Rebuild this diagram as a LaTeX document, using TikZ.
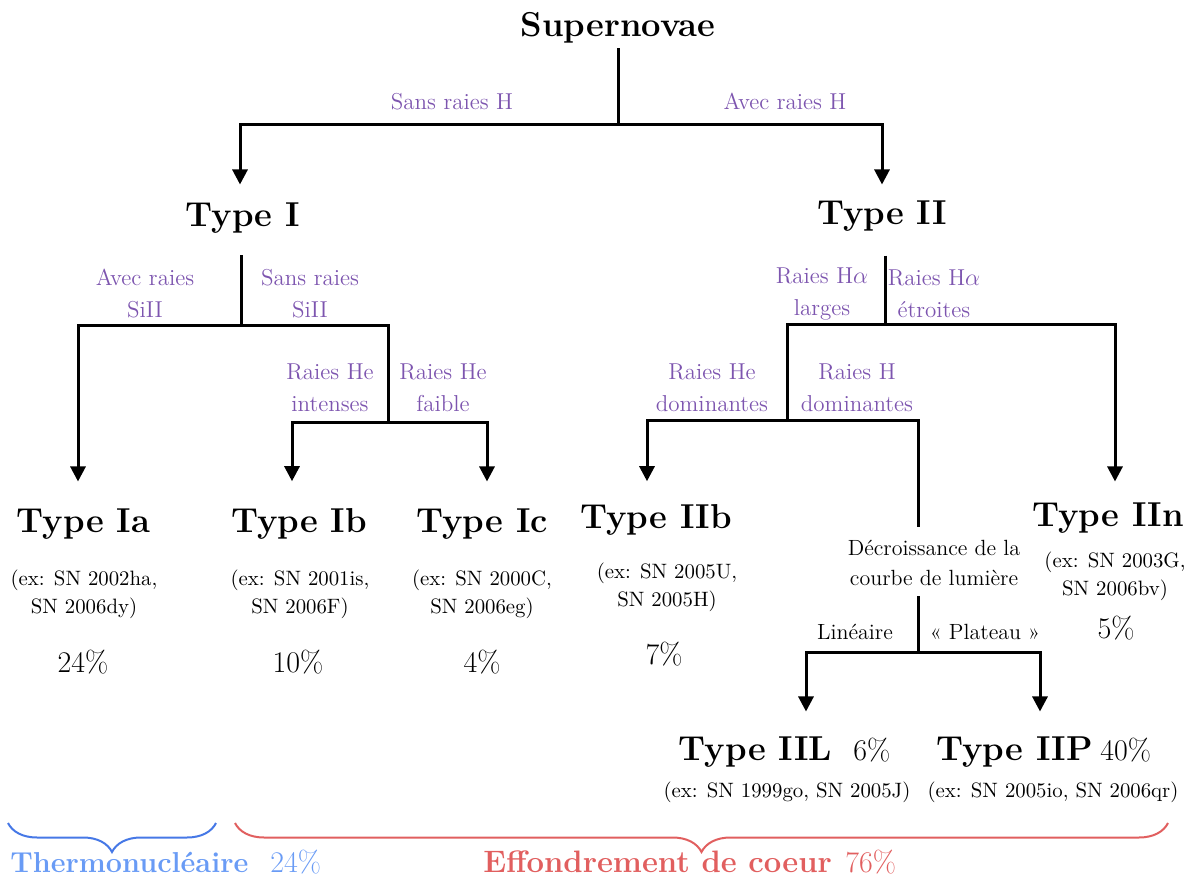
\documentclass[tikz,border=0pt]{standalone}
\usepackage{fontspec}
\usetikzlibrary{arrows.meta,decorations.pathreplacing,calc}
\definecolor{lab}{RGB}{125,85,175}
\definecolor{bleuA}{RGB}{70,120,230}
\definecolor{bleuB}{RGB}{105,155,245}
\definecolor{rougeA}{RGB}{225,95,95}
\tikzset{
  title/.style={font=\fontsize{17.28}{20}\selectfont\bfseries, inner sep=0pt, anchor=base},
  lbl/.style={text=lab, font=\fontsize{11.5}{16}\selectfont, align=center, inner sep=0pt},
  lblb/.style={text=lab, font=\fontsize{11.5}{16}\selectfont, inner sep=0pt, anchor=base},
  ex/.style={font=\fontsize{10.4}{14}\selectfont, align=center, inner sep=0pt},
  pct/.style={font=\fontsize{15}{18}\selectfont, inner sep=0pt, anchor=base},
  small/.style={font=\fontsize{11}{15}\selectfont, inner sep=0pt},
  conn/.style={line width=1.5pt},
  arr/.style={conn, -{Triangle[length=7.5pt,width=7.5pt]}},
  bracedec/.style={decorate, decoration={brace, mirror, amplitude=14.5pt}, line width=1pt},
}
\begin{document}
\begin{tikzpicture}[x=0.5pt,y=-0.5pt]
\useasboundingbox (0,0) rectangle (1198,881);
% titles
\node[title] (sn) at (618,37) {Supernovae};
\node[title] (t1) at (243,227) {Type I};
\node[title] (t2) at (882,225) {Type II};
\node[title] (tia) at (83.5,532) {Type Ia};
\node[title] (tib) at (299,532) {Type Ib};
\node[title] (tic) at (482,532) {Type Ic};
\node[title] (tiib) at (656,528) {Type IIb};
\node[title] (tiin) at (1108,526) {Type IIn};
\node[title] (tiil) at (755.5,760) {Type IIL};
\node[title] (tiip) at (1014.5,760) {Type IIP};
% branch labels
\node[lblb] (l1) at (452,110) {Sans raies H};
\node[lblb] (l2) at (785,110) {Avec raies H};
\node[lbl] (l3) at (145,294) {Avec raies\\SiII};
\node[lbl] (l4) at (310,294) {Sans raies\\SiII};
\node[lbl] (l5) at (330,388) {Raies He\\intenses};
\node[lbl] (l6) at (443,388) {Raies He\\faible};
\node[lbl] (l7) at (822,294) {Raies H$\alpha$\\larges};
\node[lbl] (l8) at (934,294) {Raies H$\alpha$\\étroites};
\node[lbl] (l9) at (712,388) {Raies He\\dominantes};
\node[lbl] (l10) at (857,388) {Raies H\\dominantes};
% decroissance
\node[small, align=center] (dec) at (934,563) {Décroissance de la\\courbe de lumière};
\node[small, anchor=base] (lin) at (855,639) {Linéaire};
\node[small, anchor=base] (pla) at (985,639) {« Plateau »};
% examples
\node[ex] (eia) at (84,594) {(ex: SN 2002ha,\\SN 2006dy)};
\node[ex] (eib) at (300,594) {(ex: SN 2001is,\\SN 2006F)};
\node[ex] (eic) at (482,594) {(ex: SN 2000C,\\SN 2006eg)};
\node[ex] (eiib) at (667,587) {(ex: SN 2005U,\\SN 2005H)};
\node[ex] (eiin) at (1115,576) {(ex: SN 2003G,\\SN 2006bv)};
\node[ex] (eiil) at (787,792) {(ex: SN 1999go, SN 2005J)};
\node[ex] (eiip) at (1053,792) {(ex: SN 2005io, SN 2006qr)};
% percentages
\node[pct] (pia) at (83,672) {24\%};
\node[pct] (pib) at (298,672) {10\%};
\node[pct] (pic) at (482,672) {4\%};
\node[pct] (piib) at (664,664) {7\%};
\node[pct] (piin) at (1116,638) {5\%};
\node[pct, anchor=base west] (piil) at (853,760) {6\%};
\node[pct, anchor=base west] (piip) at (1100,760) {40\%};
% junctions
\coordinate (j0) at (618,125);
\coordinate (j1) at (241,326);
\coordinate (j2) at (388,423);
\coordinate (j3) at (885,325);
\coordinate (j4) at (787,421);
\coordinate (j6) at (918,652);
% connectors
\draw[conn, shorten <=2pt] (sn.south) -- (j0);
\draw[arr, shorten >=9.2pt] (j0) -| ([xshift=-1.5pt]t1.north);
\draw[arr, shorten >=8.2pt] (j0) -| (t2.north);
\draw[conn, shorten <=10.5pt] (t1.south -| j1) -- (j1);
\draw[arr, shorten >=13.2pt] (j1) -| ([xshift=-2.75pt]tia.north);
\draw[conn] (j1) -| (j2);
\draw[arr, shorten >=13.2pt] (j2) -| ([xshift=-3.5pt]tib.north);
\draw[arr, shorten >=13.2pt] (j2) -| ([xshift=2.5pt]tic.north);
\draw[conn, shorten <=11.7pt] (t2.south -| j3) -- (j3);
\draw[arr, shorten >=10.2pt] (j3) -| ([xshift=3.5pt]tiin.north);
\draw[conn] (j3) -| (j4);
\draw[arr, shorten >=11.2pt] (j4) -| ([xshift=-4.5pt]tiib.north);
\draw[conn, shorten >=6.5pt] (j4) -| (dec.north -| j6);
\draw[conn, shorten <=5pt] (dec.south -| j6) -- (j6);
\draw[arr, shorten >=12.2pt] (j6) -| ([xshift=25.25pt]tiil.north);
\draw[arr, shorten >=12.2pt] (j6) -| ([xshift=12.75pt]tiip.north);
% braces
\coordinate (ba) at (8,823);
\coordinate (bb) at (216,823);
\coordinate (bc) at (235,823);
\coordinate (bd) at (1168,823);
\draw[bracedec, bleuA] (ba) -- (bb);
\draw[bracedec, rougeA] (bc) -- (bd);
\node[anchor=base west, inner sep=0pt, text=bleuB, font=\fontsize{14.4}{17}\selectfont\bfseries] (th) at (10,872) {Thermonucléaire};
\node[anchor=base west, inner sep=0pt, text=bleuB, font=\fontsize{15}{17}\selectfont] (thp) at (270,872) {24\%};
\node[anchor=base west, inner sep=0pt, text=rougeA, font=\fontsize{15.5}{17}\selectfont\bfseries] (ef) at (483,872) {Effondrement de coeur};
\node[anchor=base west, inner sep=0pt, text=rougeA, font=\fontsize{15}{17}\selectfont] (efp) at (845,872) {76\%};
\end{tikzpicture}
\end{document}
